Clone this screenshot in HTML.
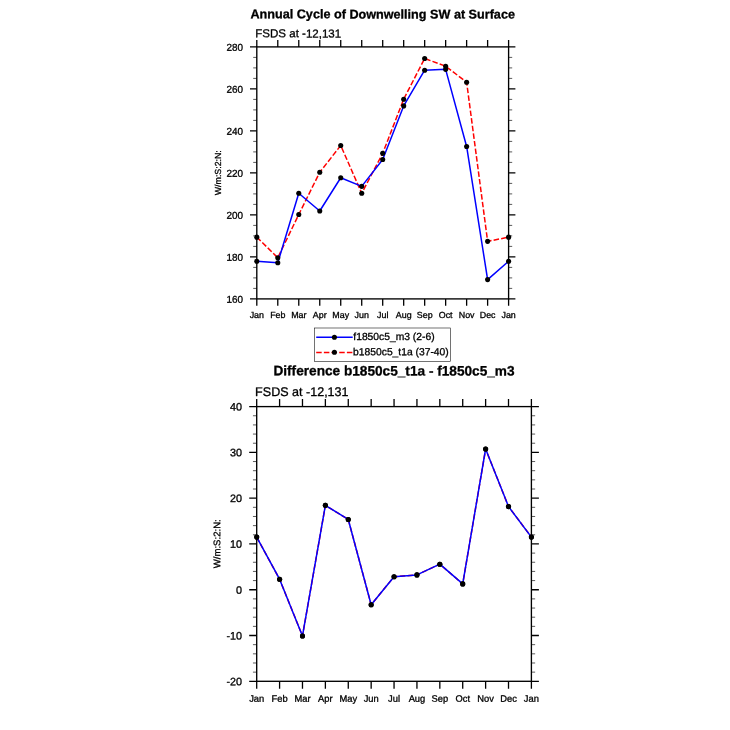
<!DOCTYPE html>
<html lang="en"><head><meta charset="utf-8"><title>Annual Cycle of Downwelling SW at Surface</title>
<style>
html,body{margin:0;padding:0;background:#fff;}
body{width:730px;height:730px;overflow:hidden;}
svg{display:block;text-rendering:geometricPrecision;}
text{font-family:"Liberation Sans",sans-serif;fill:#000;stroke:#000;stroke-width:0.3px;stroke-linejoin:round;}
</style></head><body>
<svg width="730" height="730" viewBox="0 0 730 730">
<rect x="0" y="0" width="730" height="730" fill="#fff"/>
<text transform="translate(382.70 18.40) rotate(0.03)" font-size="12.63" text-anchor="middle" font-weight="bold">Annual Cycle of Downwelling SW at Surface</text>
<text transform="translate(255.20 37.35) rotate(0.03)" font-size="11.55">FSDS at -12,131</text>
<polyline points="256.80,237.16 277.78,257.74 298.77,214.48 319.75,172.27 340.73,145.49 361.72,193.27 382.70,153.37 403.68,99.19 424.67,58.45 445.65,66.22 466.63,82.18 487.62,241.36 508.60,237.16" fill="none" stroke="#ff0000" stroke-width="1.5" stroke-dasharray="5.5 2.17" stroke-linejoin="round"/>
<polyline points="256.80,261.20 277.78,262.78 298.77,193.27 319.75,211.01 340.73,177.73 361.72,186.34 382.70,159.46 403.68,105.91 424.67,70.21 445.65,69.37 466.63,146.44 487.62,279.58 508.60,261.20" fill="none" stroke="#0000ff" stroke-width="1.5" stroke-linejoin="round"/>
<rect x="256.80" y="46.90" width="251.80" height="252.00" fill="none" stroke="#000" stroke-width="1.35"/>
<path d="M256.80 46.90V40.10M256.80 298.90V305.70M277.78 46.90V40.10M277.78 298.90V305.70M298.77 46.90V40.10M298.77 298.90V305.70M319.75 46.90V40.10M319.75 298.90V305.70M340.73 46.90V40.10M340.73 298.90V305.70M361.72 46.90V40.10M361.72 298.90V305.70M382.70 46.90V40.10M382.70 298.90V305.70M403.68 46.90V40.10M403.68 298.90V305.70M424.67 46.90V40.10M424.67 298.90V305.70M445.65 46.90V40.10M445.65 298.90V305.70M466.63 46.90V40.10M466.63 298.90V305.70M487.62 46.90V40.10M487.62 298.90V305.70M508.60 46.90V40.10M508.60 298.90V305.70M256.80 298.90H250.00M508.60 298.90H515.40M256.80 256.90H250.00M508.60 256.90H515.40M256.80 214.90H250.00M508.60 214.90H515.40M256.80 172.90H250.00M508.60 172.90H515.40M256.80 130.90H250.00M508.60 130.90H515.40M256.80 88.90H250.00M508.60 88.90H515.40M256.80 46.90H250.00M508.60 46.90H515.40" stroke="#000" stroke-width="1.3" fill="none"/>
<path d="M256.80 288.40H253.20M508.60 288.40H512.20M256.80 277.90H253.20M508.60 277.90H512.20M256.80 267.40H253.20M508.60 267.40H512.20M256.80 246.40H253.20M508.60 246.40H512.20M256.80 235.90H253.20M508.60 235.90H512.20M256.80 225.40H253.20M508.60 225.40H512.20M256.80 204.40H253.20M508.60 204.40H512.20M256.80 193.90H253.20M508.60 193.90H512.20M256.80 183.40H253.20M508.60 183.40H512.20M256.80 162.40H253.20M508.60 162.40H512.20M256.80 151.90H253.20M508.60 151.90H512.20M256.80 141.40H253.20M508.60 141.40H512.20M256.80 120.40H253.20M508.60 120.40H512.20M256.80 109.90H253.20M508.60 109.90H512.20M256.80 99.40H253.20M508.60 99.40H512.20M256.80 78.40H253.20M508.60 78.40H512.20M256.80 67.90H253.20M508.60 67.90H512.20M256.80 57.40H253.20M508.60 57.40H512.20" stroke="#000" stroke-width="0.65" fill="none"/>
<circle cx="256.80" cy="237.16" r="2.55"/>
<circle cx="277.78" cy="257.74" r="2.55"/>
<circle cx="298.77" cy="214.48" r="2.55"/>
<circle cx="319.75" cy="172.27" r="2.55"/>
<circle cx="340.73" cy="145.49" r="2.55"/>
<circle cx="361.72" cy="193.27" r="2.55"/>
<circle cx="382.70" cy="153.37" r="2.55"/>
<circle cx="403.68" cy="99.19" r="2.55"/>
<circle cx="424.67" cy="58.45" r="2.55"/>
<circle cx="445.65" cy="66.22" r="2.55"/>
<circle cx="466.63" cy="82.18" r="2.55"/>
<circle cx="487.62" cy="241.36" r="2.55"/>
<circle cx="508.60" cy="237.16" r="2.55"/>
<circle cx="256.80" cy="261.20" r="2.55"/>
<circle cx="277.78" cy="262.78" r="2.55"/>
<circle cx="298.77" cy="193.27" r="2.55"/>
<circle cx="319.75" cy="211.01" r="2.55"/>
<circle cx="340.73" cy="177.73" r="2.55"/>
<circle cx="361.72" cy="186.34" r="2.55"/>
<circle cx="382.70" cy="159.46" r="2.55"/>
<circle cx="403.68" cy="105.91" r="2.55"/>
<circle cx="424.67" cy="70.21" r="2.55"/>
<circle cx="445.65" cy="69.37" r="2.55"/>
<circle cx="466.63" cy="146.44" r="2.55"/>
<circle cx="487.62" cy="279.58" r="2.55"/>
<circle cx="508.60" cy="261.20" r="2.55"/>
<g font-size="8.9" text-anchor="middle">
<text transform="translate(256.80 318.00) rotate(0.03)">Jan</text>
<text transform="translate(277.78 318.00) rotate(0.03)">Feb</text>
<text transform="translate(298.77 318.00) rotate(0.03)">Mar</text>
<text transform="translate(319.75 318.00) rotate(0.03)">Apr</text>
<text transform="translate(340.73 318.00) rotate(0.03)">May</text>
<text transform="translate(361.72 318.00) rotate(0.03)">Jun</text>
<text transform="translate(382.70 318.00) rotate(0.03)">Jul</text>
<text transform="translate(403.68 318.00) rotate(0.03)">Aug</text>
<text transform="translate(424.67 318.00) rotate(0.03)">Sep</text>
<text transform="translate(445.65 318.00) rotate(0.03)">Oct</text>
<text transform="translate(466.63 318.00) rotate(0.03)">Nov</text>
<text transform="translate(487.62 318.00) rotate(0.03)">Dec</text>
<text transform="translate(508.60 318.00) rotate(0.03)">Jan</text>
</g>
<g font-size="9.95" text-anchor="end">
<text transform="translate(243.10 302.65) rotate(0.03)">160</text>
<text transform="translate(243.10 260.65) rotate(0.03)">180</text>
<text transform="translate(243.10 218.65) rotate(0.03)">200</text>
<text transform="translate(243.10 176.65) rotate(0.03)">220</text>
<text transform="translate(243.10 134.65) rotate(0.03)">240</text>
<text transform="translate(243.10 92.65) rotate(0.03)">260</text>
<text transform="translate(243.10 50.65) rotate(0.03)">280</text>
</g>
<text transform="translate(221.10 172.70) rotate(-89.97)" font-size="8.8" text-anchor="middle">W/m:S:2:N:</text>
<rect x="314.5" y="328" width="136" height="33.5" fill="#fff" stroke="#000" stroke-width="0.55"/>
<path d="M316.2 337.35H352.7" stroke="#0000ff" stroke-width="1.5"/>
<path d="M316.2 352.4H352.7" stroke="#ff0000" stroke-width="1.5" stroke-dasharray="5.5 2.17"/>
<circle cx="334.4" cy="337.2" r="2.55"/><circle cx="334.4" cy="352.3" r="2.55"/>
<text transform="translate(353.30 340.00) rotate(0.03)" font-size="10.3">f1850c5_m3 (2-6)</text>
<text transform="translate(353.10 355.20) rotate(0.03)" font-size="10.3">b1850c5_t1a (37-40)</text>
<text transform="translate(394.00 375.40) rotate(0.03)" font-size="13.65" text-anchor="middle" font-weight="bold">Difference b1850c5_t1a - f1850c5_m3</text>
<text transform="translate(255.10 396.00) rotate(0.03)" font-size="12.55">FSDS at -12,131</text>
<polyline points="256.70,537.08 279.59,579.20 302.48,635.97 325.38,505.35 348.27,519.46 371.16,604.70 394.05,576.69 416.94,574.90 439.83,564.19 462.72,583.92 485.62,449.00 508.51,506.59 531.40,537.08" fill="none" stroke="#ff0000" stroke-width="1.5" stroke-dasharray="5.5 2.17" stroke-linejoin="round"/>
<polyline points="256.70,537.08 279.59,579.20 302.48,635.97 325.38,505.35 348.27,519.46 371.16,604.70 394.05,576.69 416.94,574.90 439.83,564.19 462.72,583.92 485.62,449.00 508.51,506.59 531.40,537.08" fill="none" stroke="#0000ff" stroke-width="1.5" stroke-linejoin="round"/>
<rect x="256.70" y="406.60" width="274.70" height="274.70" fill="none" stroke="#000" stroke-width="1.35"/>
<path d="M256.70 406.60V399.10M256.70 681.30V688.80M279.59 406.60V399.10M279.59 681.30V688.80M302.48 406.60V399.10M302.48 681.30V688.80M325.38 406.60V399.10M325.38 681.30V688.80M348.27 406.60V399.10M348.27 681.30V688.80M371.16 406.60V399.10M371.16 681.30V688.80M394.05 406.60V399.10M394.05 681.30V688.80M416.94 406.60V399.10M416.94 681.30V688.80M439.83 406.60V399.10M439.83 681.30V688.80M462.72 406.60V399.10M462.72 681.30V688.80M485.62 406.60V399.10M485.62 681.30V688.80M508.51 406.60V399.10M508.51 681.30V688.80M531.40 406.60V399.10M531.40 681.30V688.80M256.70 681.30H249.20M531.40 681.30H538.90M256.70 635.52H249.20M531.40 635.52H538.90M256.70 589.73H249.20M531.40 589.73H538.90M256.70 543.95H249.20M531.40 543.95H538.90M256.70 498.17H249.20M531.40 498.17H538.90M256.70 452.38H249.20M531.40 452.38H538.90M256.70 406.60H249.20M531.40 406.60H538.90" stroke="#000" stroke-width="1.3" fill="none"/>
<path d="M256.70 672.14H252.95M531.40 672.14H535.15M256.70 662.99H252.95M531.40 662.99H535.15M256.70 653.83H252.95M531.40 653.83H535.15M256.70 644.67H252.95M531.40 644.67H535.15M256.70 626.36H252.95M531.40 626.36H535.15M256.70 617.20H252.95M531.40 617.20H535.15M256.70 608.05H252.95M531.40 608.05H535.15M256.70 598.89H252.95M531.40 598.89H535.15M256.70 580.58H252.95M531.40 580.58H535.15M256.70 571.42H252.95M531.40 571.42H535.15M256.70 562.26H252.95M531.40 562.26H535.15M256.70 553.11H252.95M531.40 553.11H535.15M256.70 534.79H252.95M531.40 534.79H535.15M256.70 525.64H252.95M531.40 525.64H535.15M256.70 516.48H252.95M531.40 516.48H535.15M256.70 507.32H252.95M531.40 507.32H535.15M256.70 489.01H252.95M531.40 489.01H535.15M256.70 479.85H252.95M531.40 479.85H535.15M256.70 470.70H252.95M531.40 470.70H535.15M256.70 461.54H252.95M531.40 461.54H535.15M256.70 443.23H252.95M531.40 443.23H535.15M256.70 434.07H252.95M531.40 434.07H535.15M256.70 424.91H252.95M531.40 424.91H535.15M256.70 415.76H252.95M531.40 415.76H535.15" stroke="#000" stroke-width="0.65" fill="none"/>
<circle cx="256.70" cy="537.08" r="2.55"/>
<circle cx="279.59" cy="579.20" r="2.55"/>
<circle cx="302.48" cy="635.97" r="2.55"/>
<circle cx="325.38" cy="505.35" r="2.55"/>
<circle cx="348.27" cy="519.46" r="2.55"/>
<circle cx="371.16" cy="604.70" r="2.55"/>
<circle cx="394.05" cy="576.69" r="2.55"/>
<circle cx="416.94" cy="574.90" r="2.55"/>
<circle cx="439.83" cy="564.19" r="2.55"/>
<circle cx="462.72" cy="583.92" r="2.55"/>
<circle cx="485.62" cy="449.00" r="2.55"/>
<circle cx="508.51" cy="506.59" r="2.55"/>
<circle cx="531.40" cy="537.08" r="2.55"/>
<circle cx="256.70" cy="537.08" r="2.55"/>
<circle cx="279.59" cy="579.20" r="2.55"/>
<circle cx="302.48" cy="635.97" r="2.55"/>
<circle cx="325.38" cy="505.35" r="2.55"/>
<circle cx="348.27" cy="519.46" r="2.55"/>
<circle cx="371.16" cy="604.70" r="2.55"/>
<circle cx="394.05" cy="576.69" r="2.55"/>
<circle cx="416.94" cy="574.90" r="2.55"/>
<circle cx="439.83" cy="564.19" r="2.55"/>
<circle cx="462.72" cy="583.92" r="2.55"/>
<circle cx="485.62" cy="449.00" r="2.55"/>
<circle cx="508.51" cy="506.59" r="2.55"/>
<circle cx="531.40" cy="537.08" r="2.55"/>
<g font-size="9.35" text-anchor="middle">
<text transform="translate(256.70 701.80) rotate(0.03)">Jan</text>
<text transform="translate(279.59 701.80) rotate(0.03)">Feb</text>
<text transform="translate(302.48 701.80) rotate(0.03)">Mar</text>
<text transform="translate(325.38 701.80) rotate(0.03)">Apr</text>
<text transform="translate(348.27 701.80) rotate(0.03)">May</text>
<text transform="translate(371.16 701.80) rotate(0.03)">Jun</text>
<text transform="translate(394.05 701.80) rotate(0.03)">Jul</text>
<text transform="translate(416.94 701.80) rotate(0.03)">Aug</text>
<text transform="translate(439.83 701.80) rotate(0.03)">Sep</text>
<text transform="translate(462.72 701.80) rotate(0.03)">Oct</text>
<text transform="translate(485.62 701.80) rotate(0.03)">Nov</text>
<text transform="translate(508.51 701.80) rotate(0.03)">Dec</text>
<text transform="translate(531.40 701.80) rotate(0.03)">Jan</text>
</g>
<g font-size="10.8" text-anchor="end">
<text transform="translate(242.00 685.20) rotate(0.03)">-20</text>
<text transform="translate(242.00 639.42) rotate(0.03)">-10</text>
<text transform="translate(242.00 593.63) rotate(0.03)">0</text>
<text transform="translate(242.00 547.85) rotate(0.03)">10</text>
<text transform="translate(242.00 502.07) rotate(0.03)">20</text>
<text transform="translate(242.00 456.28) rotate(0.03)">30</text>
<text transform="translate(242.00 410.50) rotate(0.03)">40</text>
</g>
<text transform="translate(220.30 543.80) rotate(-89.97)" font-size="9.6" text-anchor="middle">W/m:S:2:N:</text>
</svg>
</body></html>
